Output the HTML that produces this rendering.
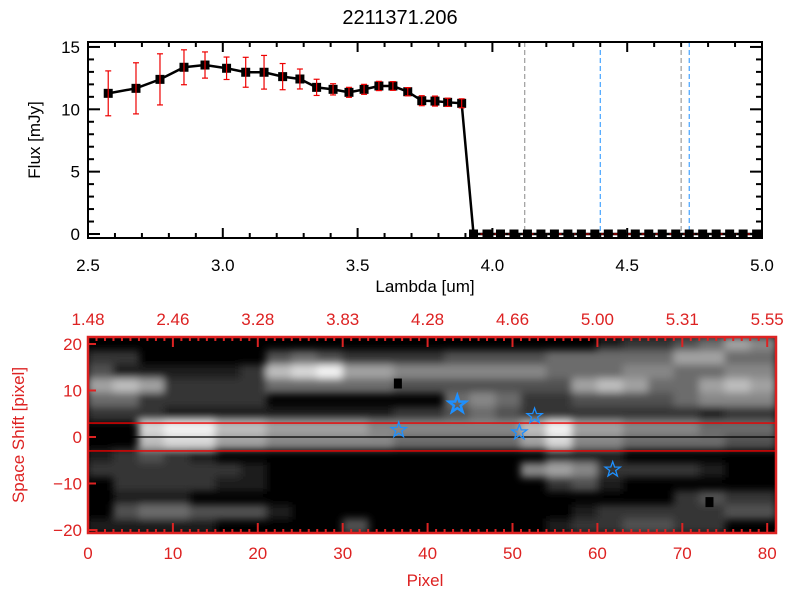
<!DOCTYPE html>
<html><head><meta charset="utf-8"><style>
body{margin:0;background:#fff}
svg{display:block;font-family:"Liberation Sans",sans-serif}
</style></head><body>
<svg id="s" width="800" height="600" xmlns="http://www.w3.org/2000/svg">
<text x="400" y="24" font-size="20" text-anchor="middle">2211371.206</text>
<g id="top"></g>
<g id="bot"></g>
</svg>
<script>
const lam=[2.575,2.678,2.767,2.856,2.934,3.014,3.085,3.153,3.222,3.286,3.348,3.409,3.468,3.524,3.579,3.631,3.686,3.738,3.787,3.834,3.886];
const flux=[11.28,11.68,12.4,13.37,13.55,13.29,12.97,12.97,12.62,12.43,11.76,11.6,11.36,11.6,11.87,11.87,11.41,10.69,10.66,10.56,10.48];
const ferr=[1.8,2.05,2.05,1.4,1.05,0.9,1.2,1.35,1.05,0.8,0.65,0.45,0.4,0.4,0.37,0.35,0.33,0.4,0.4,0.33,0.36];
const zeroLam=[3.93,3.98,4.03,4.08,4.13,4.18,4.23,4.28,4.33,4.38,4.43,4.48,4.53,4.58,4.63,4.68,4.73,4.78,4.83,4.88,4.93,4.98];
const xTicks=[2.5,3.0,3.5,4.0,4.5,5.0];
const xTickLabels=["2.5","3.0","3.5","4.0","4.5","5.0"];
const yTicks=[0,5,10,15];
const grayLines=[4.12,4.70];
const blueLines=[4.40,4.73];
const topLabels=["1.48","2.46","3.28","3.83","4.28","4.66","5.00","5.31","5.55"];
const pixTicks=[0,10,20,30,40,50,60,70,80];
const shiftTicks=[20,10,0,-10,-20];
const grid=[
"000000000000000000001223465",
"220000034322223333444446644",
"311111278966555555444554455",
"676222244444333333367644676",
"442222200000004542233334555",
"222111111111223432222222122",
"008997766665555557966555444",
"007886655555444446855444433",
"123210000000000000111000000",
"222222100000000005652222100",
"022221100000000000231000000",
"011100000000000000000002322",
"034433310000000000012222233",
"111110000030000000122332200"];
const stars=[[43.5,7],[36.6,1.5],[52.6,4.5],[50.8,1],[61.8,-7]];
const dots=[[36.5,11.5],[73.2,-14]];
const NS="http://www.w3.org/2000/svg";
function mk(p,t,a){const e=document.createElementNS(NS,t);for(const k in a)e.setAttribute(k,a[k]);p.appendChild(e);return e;}
// top axes
const T=document.getElementById('top');
const X=v=>88+(v-2.5)/2.5*674, Y=v=>234-v*12.47;
for(const v of grayLines){const l=mk(T,'line',{x1:X(v),x2:X(v),y1:42,y2:238,stroke:'#888','stroke-dasharray':'5,3'});

}
for(const v of blueLines){const l=mk(T,'line',{x1:X(v),x2:X(v),y1:42,y2:238,stroke:'#1e90ff','stroke-dasharray':'5,3'});

}
const allL=lam.concat(zeroLam), allF=flux.concat(zeroLam.map(()=>0));
const pl=mk(T,'polyline',{points:allL.map((v,i)=>X(v)+','+Y(allF[i])).join(' '),fill:'none',stroke:'#000','stroke-width':2.5});


const rd=mk(T,'line',{x1:X(zeroLam[0]),x2:762,y1:Y(0),y2:Y(0),stroke:'#e00','stroke-dasharray':'4,3'});


allL.forEach((v,i)=>{const r=mk(T,'rect',{x:X(v)-4.5,y:Y(allF[i])-4.5,width:9,height:9,fill:'#000'});

});
lam.forEach((v,i)=>{const g=mk(T,'g',{stroke:'#e00','stroke-width':1.2});


const x=X(v),a=Y(flux[i]+ferr[i]),b=Y(flux[i]-ferr[i]);
mk(g,'line',{x1:x,x2:x,y1:a,y2:b});mk(g,'line',{x1:x-3,x2:x+3,y1:a,y2:a});mk(g,'line',{x1:x-3,x2:x+3,y1:b,y2:b});});
const fr=mk(T,'rect',{x:88,y:42,width:674,height:196,fill:'none',stroke:'#000','stroke-width':2});


for(let v=2.5;v<=5.001;v+=0.1){const big=Math.abs(v*2-Math.round(v*2))<1e-6;const x=X(v);
mk(T,'line',{x1:x,x2:x,y1:238,y2:238-(big?10:5),stroke:'#000','stroke-width':2});mk(T,'line',{x1:x,x2:x,y1:42,y2:42+(big?10:5),stroke:'#000','stroke-width':2});}
for(let v=0;v<=15;v+=1){const big=v%5==0;mk(T,'line',{x1:88,x2:88+(big?12:6),y1:Y(v),y2:Y(v),stroke:'#000','stroke-width':2});mk(T,'line',{x1:762,x2:762-(big?12:6),y1:Y(v),y2:Y(v),stroke:'#000','stroke-width':2});}
xTicks.forEach((v,i)=>{const t=mk(T,'text',{x:X(v),y:271,'font-size':17,'text-anchor':'middle'});t.textContent=xTickLabels[i];

});
yTicks.forEach(v=>{const t=mk(T,'text',{x:80,y:Y(v)+6,'font-size':17,'text-anchor':'end'});t.textContent=String(v);

});
let t=mk(T,'text',{x:425,y:292,'font-size':17,'text-anchor':'middle'});t.textContent='Lambda [um]';


t=mk(T,'text',{x:0,y:0,'font-size':17,'text-anchor':'middle',transform:'translate(40,140) rotate(-90)'});t.textContent='Flux [mJy]';


// bottom image
const B=document.getElementById('bot');
const PX=p=>88+p*8.49, SY=s=>437-s*4.65;
const L=88,R=776,TP=337,BT=533;
const bg=mk(B,'rect',{x:L,y:TP,width:R-L,height:BT-TP,fill:'#000'});


const cw=(R-L)/27, ch=(BT-TP)/14;
const hm=mk(B,'g',{filter:'url(#bl)'});
const df=mk(B,'defs',{});const fl=mk(df,'filter',{id:'bl',x:0,y:0,width:1,height:1});mk(fl,'feGaussianBlur',{stdDeviation:4});


const cl=mk(B,'clipPath',{id:'cp'});mk(cl,'rect',{x:L,y:TP,width:R-L,height:BT-TP});hm.setAttribute('clip-path','url(#cp)');
grid.forEach((row,r)=>{for(let c=0;c<27;c++){const v=+row[c];if(!v)continue;const g=Math.round(v*27);
const e=mk(hm,'rect',{x:L+c*cw-0.5,y:TP+r*ch-0.5,width:cw+1,height:ch+1,fill:`rgb(${g},${g},${g})`});

}});
dots.forEach(d=>{const e=mk(B,'rect',{x:PX(d[0])-4,y:SY(d[1])-5,width:8,height:10,fill:'#000'});

});
[[3,'#e00'],[-3,'#e00'],[0,'#000']].forEach(a=>{const e=mk(B,'line',{x1:L,x2:R,y1:SY(a[0]),y2:SY(a[0]),stroke:a[1],'stroke-width':1.3});

});
function starPts(cx,cy,r){let p=[];for(let i=0;i<10;i++){const a=-Math.PI/2+i*Math.PI/5,rr=i%2?r*0.4:r;p.push((cx+rr*Math.cos(a)).toFixed(1)+','+(cy+rr*Math.sin(a)).toFixed(1));}return p.join(' ');}
stars.forEach((s,i)=>{const e=mk(B,'polygon',{points:starPts(PX(s[0]),SY(s[1]),i==0?9:8),fill:'none',stroke:'#1e90ff','stroke-width':i==0?2.5:1.3});

});
const bf=mk(B,'rect',{x:L,y:TP,width:R-L,height:BT-TP,fill:'none',stroke:'#d22','stroke-width':2.5});


for(let p=0;p<=81;p++){const big=p%10==0;const x=PX(p);
mk(B,'line',{x1:x,x2:x,y1:BT,y2:BT-(big?10:4),stroke:'#d22','stroke-width':2});mk(B,'line',{x1:x,x2:x,y1:TP,y2:TP+(big?10:4),stroke:'#d22','stroke-width':2});}
for(let s=-20;s<=20;s+=10){mk(B,'line',{x1:L,x2:L+8,y1:SY(s),y2:SY(s),stroke:'#d22','stroke-width':2});}
pixTicks.forEach((p,i)=>{let e=mk(B,'text',{x:PX(p),y:559,'font-size':17,fill:'#d22','text-anchor':'middle'});e.textContent=String(p);


e=mk(B,'text',{x:PX(p),y:325,'font-size':17,fill:'#d22','text-anchor':'middle'});e.textContent=topLabels[i];

});
shiftTicks.forEach(s=>{const e=mk(B,'text',{x:82,y:SY(s)+6,'font-size':17,fill:'#d22','text-anchor':'end'});e.textContent=String(s).replace('-','\u2212');

});
t=mk(B,'text',{x:425,y:586,'font-size':17,fill:'#d22','text-anchor':'middle'});t.textContent='Pixel';


t=mk(B,'text',{x:0,y:0,'font-size':17,fill:'#d22','text-anchor':'middle',transform:'translate(24,435) rotate(-90)'});t.textContent='Space Shift [pixel]';


</script>
</body></html>
